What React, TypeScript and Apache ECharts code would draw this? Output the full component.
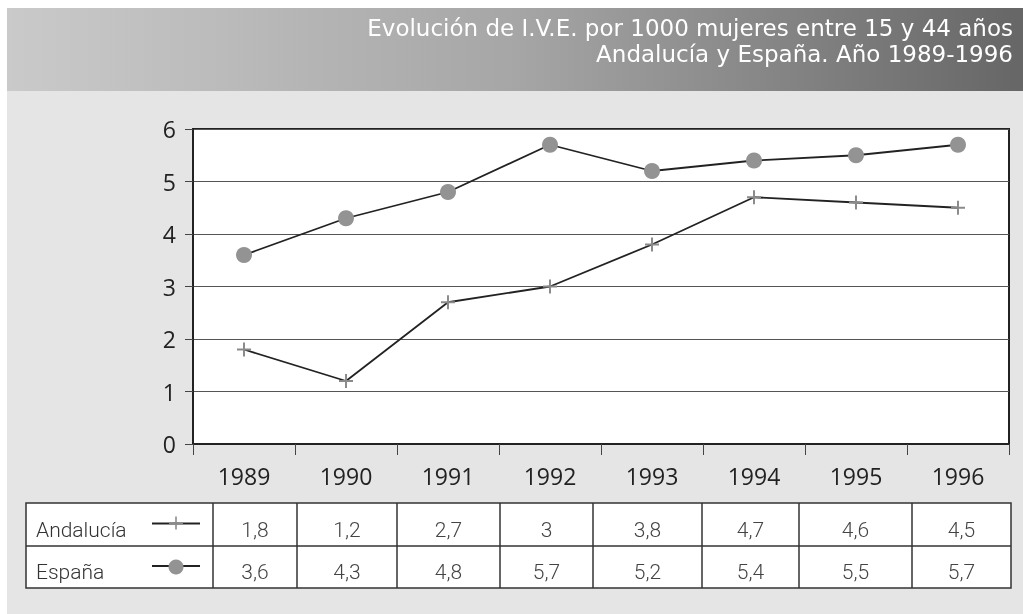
import React, { useEffect, useRef } from "react";
import * as echarts from "echarts";

const years = ["1989", "1990", "1991", "1992", "1993", "1994", "1995", "1996"];
const andalucia = [1.8, 1.2, 2.7, 3, 3.8, 4.7, 4.6, 4.5];
const espana = [3.6, 4.3, 4.8, 5.7, 5.2, 5.4, 5.5, 5.7];
const seriesNames = ["Andalucía", "España"];
const titleLines = [
  "Evolución de I.V.E. por 1000 mujeres entre 15 y 44 años",
  "Andalucía y España. Año 1989-1996",
];

// layout (pixels)
const tableCols = [26, 213, 297, 397, 500, 593, 702, 799, 912, 1011];
const tableRows = [503, 546, 588];

const PLUS = "path://M0,4.3H10V5.7H0Z M4.3,0H5.7V10H4.3Z";

const fmt = (v: number) => String(v).replace(".", ",");

export default function App() {
  const ref = useRef<HTMLDivElement>(null);
  useEffect(() => {
    const chart = echarts.init(ref.current!, null, { renderer: "svg" });
    const graphics: any[] = [];
    graphics.push({
      type: "rect",
      z: -10,
      shape: { x: 7, y: 8, width: 1016, height: 606 },
      style: { fill: "#e5e5e5" },
      silent: true,
    });
    graphics.push({
      type: "rect",
      z: -9,
      shape: { x: 7, y: 8, width: 1016, height: 83 },
      style: {
        fill: new echarts.graphic.LinearGradient(0, 0, 1, 0, [
          { offset: 0, color: "#cacaca" },
          { offset: 0.5, color: "#a6a6a6" },
          { offset: 1, color: "#666666" },
        ]),
      },
      silent: true,
    });
    // table
    const rowsData = [andalucia, espana];
    const left = tableCols[0];
    const right = tableCols[tableCols.length - 1];
    graphics.push({
      type: "rect",
      shape: { x: left, y: tableRows[0], width: right - left, height: tableRows[2] - tableRows[0] },
      style: { fill: "#ffffff", stroke: "#333", lineWidth: 1.5 },
      silent: true,
    });
    graphics.push({
      type: "line",
      shape: { x1: left, y1: tableRows[1], x2: right, y2: tableRows[1] },
      style: { stroke: "#333", lineWidth: 1.5 },
      silent: true,
    });
    for (let i = 1; i < tableCols.length - 1; i++) {
      graphics.push({
        type: "line",
        shape: { x1: tableCols[i], y1: tableRows[0], x2: tableCols[i], y2: tableRows[2] },
        style: { stroke: "#333", lineWidth: 1.5 },
        silent: true,
      });
    }
    rowsData.forEach((row, r) => {
      const mid = (tableRows[r] + tableRows[r + 1]) / 2;
      const ty = mid + 5;
      graphics.push({
        type: "text",
        style: {
          text: seriesNames[r],
          x: 36,
          y: ty,
          verticalAlign: "middle",
          fill: "#333",
          font: "300 21px Roboto, 'Open Sans', sans-serif",
        },
        silent: true,
      });
      // legend glyph
      graphics.push({
        type: "line",
        shape: { x1: 152, y1: mid - 1, x2: 200, y2: mid - 1 },
        style: { stroke: "#222", lineWidth: 1.8 },
        silent: true,
      });
      if (r === 0) {
        graphics.push({
          type: "line",
          shape: { x1: 169, y1: mid - 1, x2: 183, y2: mid - 1 },
          style: { stroke: "#8a8a8a", lineWidth: 1.6 },
          silent: true,
        });
        graphics.push({
          type: "line",
          shape: { x1: 176, y1: mid - 8, x2: 176, y2: mid + 5 },
          style: { stroke: "#8a8a8a", lineWidth: 1.6 },
          silent: true,
        });
      } else {
        graphics.push({
          type: "circle",
          shape: { cx: 176, cy: mid, r: 7.5 },
          style: { fill: "#939393" },
          silent: true,
        });
      }
      row.forEach((v, c) => {
        graphics.push({
          type: "text",
          style: {
            text: fmt(v),
            x: (tableCols[c + 1] + tableCols[c + 2]) / 2,
            y: ty,
            align: "center",
            verticalAlign: "middle",
            fill: "#444",
            font: "300 21px Roboto, sans-serif",
          },
          silent: true,
        });
      });
    });
    titleLines.forEach((t, i) => {
      graphics.push({
        type: "text",
        style: {
          text: t,
          x: 1013,
          y: 28 + i * 26,
          align: "right",
          verticalAlign: "middle",
          fill: "#ffffff",
          font: "23px 'DejaVu Sans', sans-serif",
        },
        silent: true,
      });
    });

    chart.setOption({
      animation: false,
      grid: {
        left: 193,
        top: 129,
        width: 816,
        height: 315,
        show: true,
        backgroundColor: "#ffffff",
        borderColor: "#222",
        borderWidth: 2,
        containLabel: false,
      },
      xAxis: {
        type: "category",
        data: years,
        boundaryGap: true,
        axisLine: { lineStyle: { color: "#222", width: 2 } },
        axisTick: { show: true, interval: 0, length: 11, lineStyle: { color: "#444", width: 1 } },
        axisLabel: {
          interval: 0,
          margin: 20,
          color: "#222",
          fontSize: 23,
          fontFamily: "'Open Sans', 'Noto Sans', sans-serif",
        },
      },
      yAxis: {
        type: "value",
        min: 0,
        max: 6,
        interval: 1,
        axisLine: { show: true, lineStyle: { color: "#222", width: 2 } },
        axisTick: { show: true, length: 8, lineStyle: { color: "#444", width: 1 } },
        splitLine: { show: true, lineStyle: { color: "#555", width: 1 } },
        axisLabel: {
          margin: 17,
          color: "#222",
          fontSize: 23,
          fontFamily: "'Open Sans', 'Noto Sans', sans-serif",
        },
      },
      series: [
        {
          name: seriesNames[0],
          type: "line",
          data: andalucia,
          symbol: PLUS,
          symbolSize: 14,
          lineStyle: { color: "#222", width: 1.8 },
          itemStyle: { color: "#8a8a8a" },
          z: 3,
        },
        {
          name: seriesNames[1],
          type: "line",
          data: espana,
          symbol: "circle",
          symbolSize: 16,
          lineStyle: { color: "#222", width: 1.8 },
          itemStyle: { color: "#939393" },
          z: 3,
        },
      ],
      graphic: graphics,
    });
    return () => chart.dispose();
  }, []);
  return (
    <div
      ref={ref}
      style={{ position: "fixed", left: 0, top: 0, width: 1023, height: 614 }}
    />
  );
}
